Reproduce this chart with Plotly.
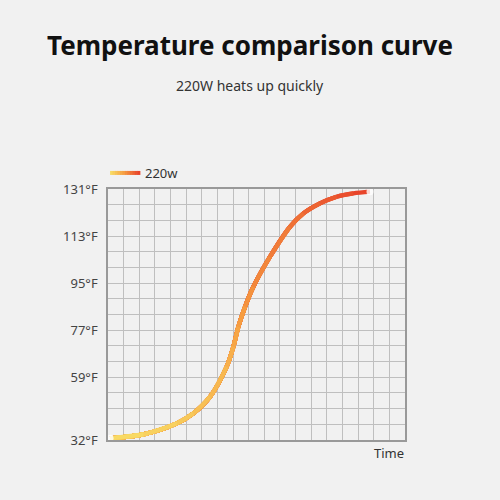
import plotly.graph_objects as go

# curve, in grid cells (x: time cells, y: temperature cells)
time_cells = [0.13, 2.26, 4.40, 5.46, 6.53, 7.59, 8.02, 8.34, 8.77, 9.30,
              10.36, 11.64, 12.50, 13.56, 14.63, 15.69, 16.76]
temp_cells = [0.11, 0.36, 1.06, 1.70, 2.76, 4.67, 5.95, 7.22, 8.50, 9.77,
              11.68, 13.59, 14.45, 15.09, 15.51, 15.72, 15.83]

tick_pos = [0, 4, 7, 10, 13, 16]
tick_labels = ['32°F', '59°F', '77°F', '95°F', '113°F', '131°F']
series_name = '220w'

bg = '#f1f1f1'
grid = '#bfbfbf'


def mix(t):
    # yellow -> orange -> red-orange
    stops = [(0.0, (248, 218, 100)), (0.45, (246, 160, 66)), (1.0, (232, 68, 42))]
    for (t0, c0), (t1, c1) in zip(stops[:-1], stops[1:]):
        if t <= t1:
            f = (t - t0) / (t1 - t0)
            return 'rgb(%d,%d,%d)' % tuple(round(a + (b - a) * f) for a, b in zip(c0, c1))
    return 'rgb(232,68,42)'


fig = go.Figure()
n = len(time_cells)
# gradient: longest prefix first (reddest), shorter prefixes drawn on top
for i in range(n, 1, -1):
    fig.add_trace(go.Scatter(x=time_cells[:i], y=temp_cells[:i], mode='lines',
                             line=dict(color=mix((i - 2) / (n - 2)), width=4.2,
                                       shape='spline', smoothing=0.9),
                             showlegend=False, hoverinfo='skip'))

# glow at the ends
fig.add_trace(go.Scatter(x=[time_cells[0], time_cells[-1]], y=[temp_cells[0], temp_cells[-1]],
                         mode='markers', marker=dict(color='white', size=7, opacity=0.8),
                         showlegend=False, hoverinfo='skip'))

# legend swatch
k = 12
for j in range(k):
    fig.add_shape(type='line', xref='paper', yref='paper',
                  x0=0.007 + j * 0.1 / k, x1=0.007 + (j + 1) * 0.1 / k + 0.002,
                  y0=1.064, y1=1.064, line=dict(color=mix(j / (k - 1)), width=4))

fig.add_annotation(text=series_name, xref='paper', yref='paper', x=0.118, y=1.064,
                   xanchor='left', yanchor='middle', showarrow=False,
                   font=dict(size=13, color='#333'))
fig.add_annotation(text='Temperature comparison curve', xref='paper', yref='paper',
                   x=0.5, y=1.574, xanchor='center', yanchor='middle', showarrow=False,
                   font=dict(size=26, color='#111', family='Noto Sans', weight='bold'),
                   xshift=-7)
fig.add_annotation(text='220W heats up quickly', xref='paper', yref='paper',
                   x=0.5, y=1.414, xanchor='center', yanchor='middle', showarrow=False,
                   font=dict(size=14, color='#333'), xshift=-7)
fig.add_annotation(text='Time', xref='paper', yref='paper', x=1.005, y=-0.052,
                   xanchor='right', yanchor='middle', showarrow=False,
                   font=dict(size=13, color='#333'))

fig.update_layout(
    width=500, height=500,
    margin=dict(l=108, r=95, t=189, b=60),
    paper_bgcolor=bg, plot_bgcolor=bg,
    font=dict(family='Noto Sans', color='#444', size=13),
    showlegend=False,
)
fig.update_xaxes(range=[0, 19], dtick=1, showticklabels=False, showgrid=True,
                 gridcolor=grid, gridwidth=1, zeroline=False,
                 showline=True, linecolor='#999', linewidth=1.5, mirror=True)
fig.update_yaxes(range=[0, 16], tickvals=tick_pos, ticktext=tick_labels, showgrid=True,
                 gridcolor=grid, gridwidth=1, zeroline=False,
                 minor=dict(dtick=1, showgrid=True, gridcolor=grid, gridwidth=1),
                 showline=True, linecolor='#999', linewidth=1.5, mirror=True,
                 ticks='', ticklabelstandoff=6)

fig.write_html("out.html", config={'displayModeBar': False},
               post_script="document.body.style.margin='0';"
                           "document.body.style.background='%s';" % bg)
